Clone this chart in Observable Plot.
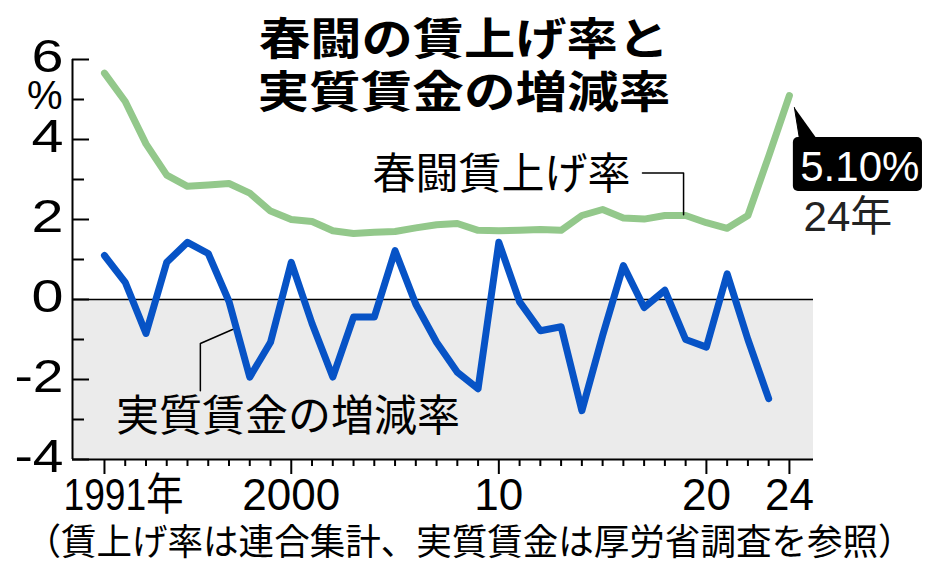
<!DOCTYPE html>
<html><head><meta charset="utf-8">
<script src="https://cdn.jsdelivr.net/npm/d3@7"></script>
<script src="https://cdn.jsdelivr.net/npm/@observablehq/plot@0.6"></script>
<style>html,body{margin:0;padding:0;background:#fff;} #chart{width:934px;height:568px;}</style>
</head><body><div id="chart"></div>
<script>
// ---- data ----
const years = [1991,1992,1993,1994,1995,1996,1997,1998,1999,2000,2001,2002,2003,2004,2005,2006,2007,2008,2009,2010,2011,2012,2013,2014,2015,2016,2017,2018,2019,2020,2021,2022,2023,2024];
const wageHikeRate = [5.66,4.95,3.89,3.11,2.83,2.86,2.90,2.66,2.21,2.00,1.95,1.72,1.65,1.68,1.70,1.79,1.87,1.90,1.73,1.72,1.73,1.75,1.73,2.10,2.25,2.04,2.01,2.10,2.10,1.92,1.78,2.10,3.58,5.10];
const realWageYears = [1991,1992,1993,1994,1995,1996,1997,1998,1999,2000,2001,2002,2003,2004,2005,2006,2007,2008,2009,2010,2011,2012,2013,2014,2015,2016,2017,2018,2019,2020,2021,2022,2023];
const realWageChange = [1.10,0.43,-0.85,0.93,1.43,1.15,-0.05,-1.94,-1.07,0.93,-0.6,-1.94,-0.44,-0.44,1.22,-0.12,-1.07,-1.82,-2.23,1.43,-0.06,-0.78,-0.68,-2.78,-0.9,0.85,-0.2,0.23,-1.0,-1.19,0.64,-1.0,-2.48];
const yMajorTicks = [-4,-2,0,2,4,6];
const yMajorLabels = ["-4","-2","0","2","4","6"];
const yMinorTicks = [-3,-1,1,3,5];
const yUnit = "%";
const xMajorTicks = [1991,2000,2010,2020,2024];
const xTickLabels = ["1991年","2000","10","20","24"];
const titleLines = ["春闘の賃上げ率と","実質賃金の増減率"];
const seriesLabels = ["春闘賃上げ率","実質賃金の増減率"];
const calloutValue = "5.10%";
const calloutYear = "24年";
const caption = "（賃上げ率は連合集計、実質賃金は厚労省調査を参照）";

// ---- layout ----
const W = 934, H = 568, mL = 72, mR = 121, mT = 59, mB = 109;
const frameW = W - mL - mR;
const xMin = 1989.46, xMax = 2025.16;
const green = "#93c88b", blue = "#0753c6";
const jp = "'Noto Sans CJK JP', sans-serif";
const lat = "'Liberation Sans', Arial, 'Noto Sans CJK JP', sans-serif";

const hike = years.map((y, i) => ({year: y, v: wageHikeRate[i]}));
const real = realWageYears.map((y, i) => ({year: y, v: realWageChange[i]}));
const minorYears = years.filter(y => !xMajorTicks.includes(y));

const greenLeader = [{x: 2016.92, y: 3.16}, {x: 2018.9, y: 3.16}, {x: 2018.9, y: 2.12}];
const blueLeader = [{x: 1997.17, y: -0.75}, {x: 1995.62, y: -1.1}, {x: 1995.62, y: -2.28}];
const pointer = [{x: 2024.24, y: 4.8}, {x: 2024.48, y: 4.03}, {x: 2025.3, y: 4.03}];

const chart = Plot.plot({
  width: W, height: H, marginLeft: mL, marginRight: mR, marginTop: mT, marginBottom: mB,
  x: {domain: [xMin, xMax], axis: null},
  y: {domain: [-4, 6], axis: null},
  style: {fontFamily: lat, background: "white", overflow: "visible", color: "#000"},
  marks: [
    Plot.rect([0], {x1: xMin, x2: xMax, y1: -4, y2: 0, fill: "#ebebeb"}),
    Plot.ruleY([0], {stroke: "#000", strokeWidth: 1.5}),
    Plot.tickY(yMajorTicks, {y: d => d, insetRight: frameW - 17, strokeWidth: 2}),
    Plot.tickY(yMinorTicks, {y: d => d, insetRight: frameW - 12, strokeWidth: 2}),
    Plot.axisX(minorYears, {tickSize: 7, strokeWidth: 2, fill: "none", label: null}),
    Plot.axisX(xMajorTicks, {tickSize: 15, strokeWidth: 2, fill: "none", label: null}),
    Plot.ruleX([xMin], {strokeWidth: 2}),
    Plot.ruleY([-4], {strokeWidth: 2}),
    // y labels
    Plot.text(yMajorTicks, {x: xMin, y: d => d, text: (d, i) => yMajorLabels[i], textAnchor: "end", dx: -9, dy: -2, fontSize: 46}),
    Plot.text([yUnit], {x: xMin, y: 5, textAnchor: "end", dx: -10, dy: -3, fontSize: 40}),
    // x labels
    Plot.text(xMajorTicks.slice(1), {x: d => d, y: -4, text: (d, i) => xTickLabels[i + 1], dy: 36, fontSize: 44}),
    Plot.text([xMajorTicks[0]], {x: d => d, y: -4, text: () => xTickLabels[0], textAnchor: "start", dx: -41, dy: 36, fontSize: 44}),
    // series
    Plot.line(hike, {x: "year", y: "v", stroke: green, strokeWidth: 7, strokeLinejoin: "round", strokeLinecap: "round"}),
    Plot.line(real, {x: "year", y: "v", stroke: blue, strokeWidth: 7, strokeLinejoin: "round", strokeLinecap: "round"}),
    // leaders + labels
    Plot.line(greenLeader, {x: "x", y: "y", stroke: "#000", strokeWidth: 1.5}),
    Plot.line(blueLeader, {x: "x", y: "y", stroke: "#000", strokeWidth: 1.5}),
    Plot.text([seriesLabels[0]], {x: 2010.13, y: 3.1, fontSize: 43, fontFamily: jp}),
    Plot.text([seriesLabels[1]], {x: 1999.84, y: -2.95, fontSize: 43, fontFamily: jp}),
    // callout
    Plot.line(pointer, {x: "x", y: "y", fill: "#000", stroke: "#000", strokeWidth: 1}),
    Plot.rect([0], {x1: 2024.19, x2: 2030.41, y1: 2.7, y2: 4.05, fill: "#000", rx: 5}),
    Plot.text([calloutValue], {x: 2027.39, y: 3.3, fill: "#fff", fontSize: 42}),
    Plot.text([calloutYear], {x: 2026.82, y: 2.05, fill: "#222", fontSize: 42}),
    // title & caption
    Plot.text([titleLines[0]], {frameAnchor: "top", lineAnchor: "middle", dx: 21, dy: -19, fontSize: 44, fontWeight: "bold", fontFamily: jp}),
    Plot.text([titleLines[1]], {frameAnchor: "top", lineAnchor: "middle", dx: 21, dy: 34.5, fontSize: 44, fontWeight: "bold", fontFamily: jp}),
    Plot.text([caption], {frameAnchor: "bottom", lineAnchor: "middle", dx: 26.5, dy: 84, fontSize: 36.5, fontFamily: jp})
  ]
});
document.getElementById("chart").appendChild(chart);

function setLen(txt, len, pred) {
  chart.querySelectorAll("text").forEach(t => {
    if (t.textContent === txt && (!pred || pred(t))) {
      t.setAttribute("textLength", len);
      t.setAttribute("lengthAdjust", "spacingAndGlyphs");
    }
  });
}
const isBold = t => { const g = t.closest("g[font-weight]"); return g && g.getAttribute("font-weight") === "bold"; };
const isBig = t => { const g = t.closest("g[font-size]"); return g && g.getAttribute("font-size") === "46"; };
setLen(titleLines[0], 410, isBold);
setLen(titleLines[1], 413, isBold);
setLen(caption, 888);
setLen(xTickLabels[0], 120);
yMajorLabels.forEach(s => setLen(s, s.length > 1 ? 49 : 32, isBig));
</script>
</body></html>
